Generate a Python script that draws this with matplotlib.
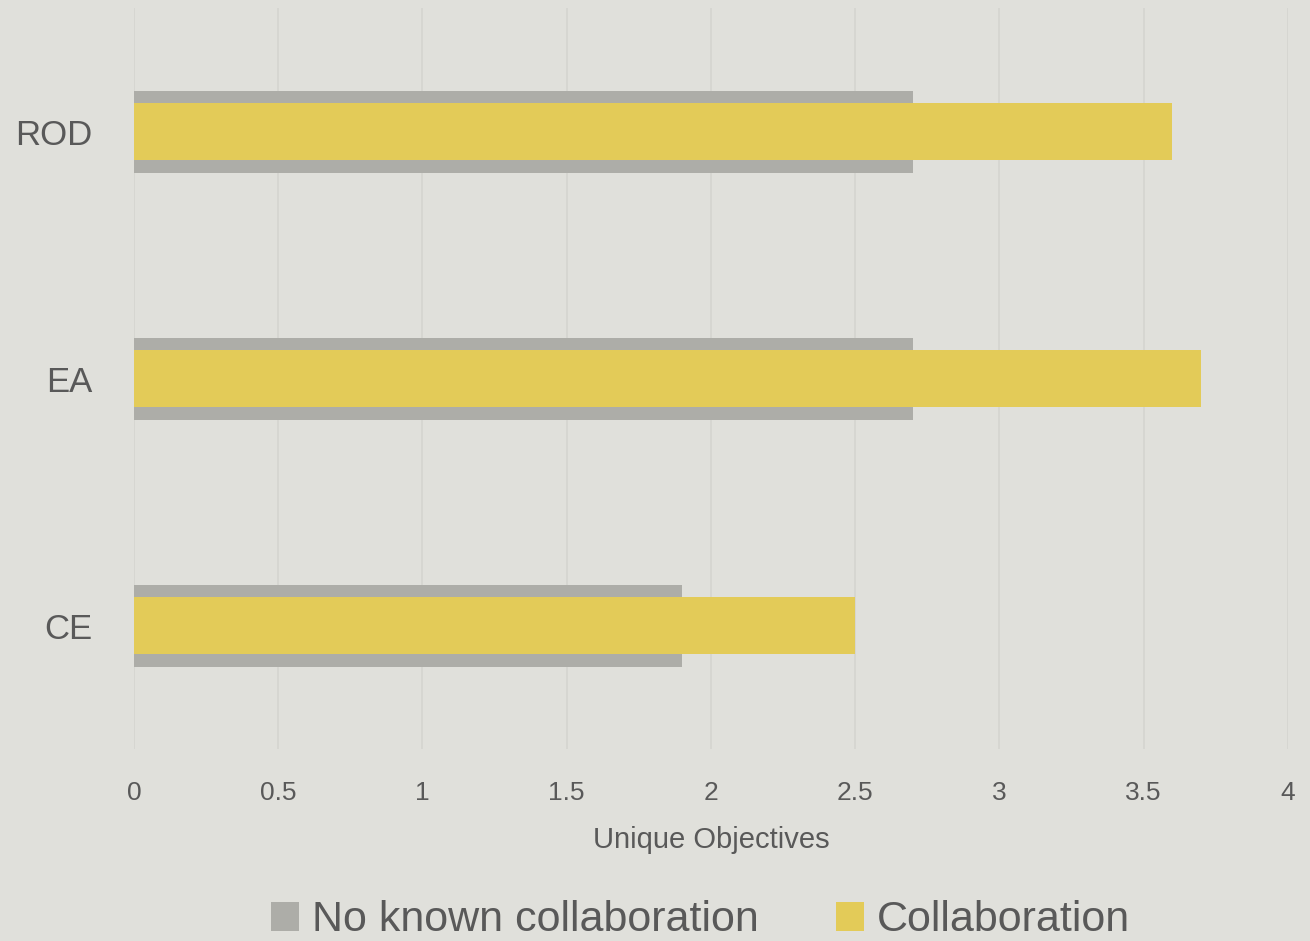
import matplotlib
matplotlib.use("Agg")
import matplotlib.pyplot as plt
from matplotlib.patches import Patch

# data
categories = ["CE", "EA", "ROD"]
no_collab = [1.9, 2.7, 2.7]
collab = [2.5, 3.7, 3.6]
xticks = [0, 0.5, 1, 1.5, 2, 2.5, 3, 3.5, 4]
xtick_labels = ["0", "0.5", "1", "1.5", "2", "2.5", "3", "3.5", "4"]

bg = "#e0e0db"
gray = "#adada8"
yellow = "#e3cb58"
txt = "#595959"

plt.rcParams['font.family'] = ['Liberation Sans', 'DejaVu Sans']

fig = plt.figure(figsize=(13.1, 9.41), dpi=100, facecolor=bg)
ax = fig.add_axes([0.1023, 0.204, 0.8807, 0.7875], facecolor=bg)

ypos = list(range(len(categories)))
ax.barh(ypos, no_collab, height=0.332, color=gray, zorder=2)
ax.barh(ypos, collab, height=0.23, color=yellow, zorder=3)

ax.set_xlim(0, 4)
ax.set_ylim(-0.5, 2.5)
ax.set_xticks(xticks)
ax.set_xticklabels(xtick_labels, fontsize=19, color=txt)
ax.set_yticks(ypos)
ax.set_yticklabels(categories, fontsize=25, color=txt)
ax.tick_params(axis='both', length=0)
ax.tick_params(axis='x', pad=23)
ax.tick_params(axis='y', pad=30)
ax.grid(axis='x', color="#d5d5d0", linewidth=1.2, zorder=0)
for s in ax.spines.values():
    s.set_visible(False)

ax.set_xlabel("Unique Objectives", fontsize=21, color=txt, labelpad=15)

handles = [Patch(facecolor=gray, label="No known collaboration"),
           Patch(facecolor=yellow, label="Collaboration")]
leg = fig.legend(handles=handles, loc='center', bbox_to_anchor=(0.535, 0.022), ncol=2,
                 frameon=False, fontsize=31, handlelength=0.65, handleheight=0.65,
                 handletextpad=0.3, columnspacing=1.8)
for t in leg.get_texts():
    t.set_color(txt)

fig.savefig("out.png", dpi=100, facecolor=bg)
